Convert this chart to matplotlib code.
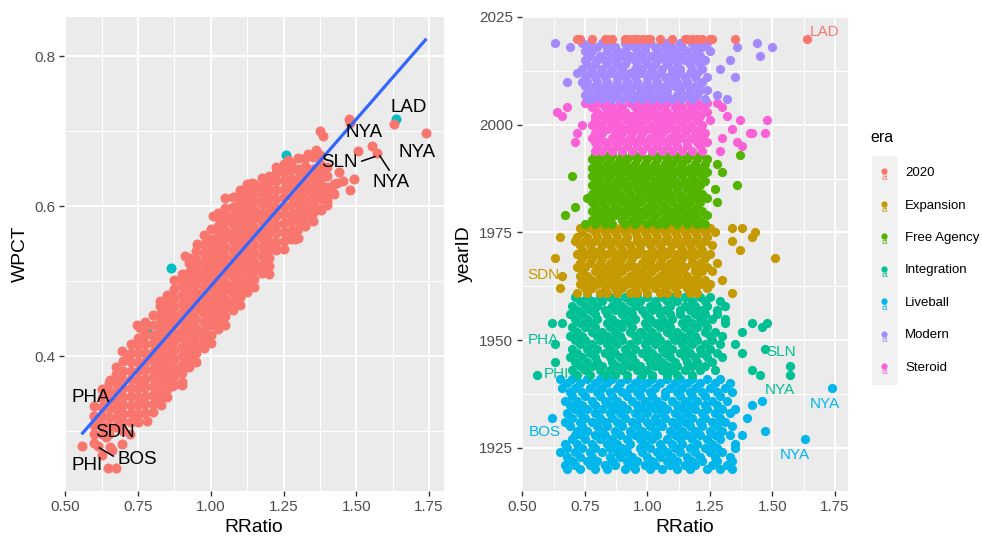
import matplotlib
matplotlib.use("Agg")
import matplotlib.pyplot as plt
from matplotlib.patches import Rectangle

plt.rcParams["font.family"] = ["Liberation Sans", "DejaVu Sans"]

# ── Left panel: WPCT vs RRatio ─────────────────────────────────────────────────
# dense band read column by column: (RRatio, [WPCT x 1000, ...])
WPCT_BAND = [
    (0.600, [285, 297, 309, 321, 334]),
    (0.625, [297, 308, 320, 332, 344, 356]),
    (0.650, [296, 307, 319, 331, 342, 354, 365]),
    (0.675, [306, 318, 330, 341, 353, 364, 376, 386]),
    (0.700, [301, 312, 323, 335, 346, 358, 369, 381, 394]),
    (0.725, [312, 324, 335, 347, 358, 370, 381, 393, 404, 416]),
    (0.750, [312, 323, 335, 346, 358, 369, 381, 392, 404, 415, 425]),
    (0.775, [324, 336, 347, 359, 370, 382, 393, 405, 416, 428, 439, 446]),
    (0.800, [326, 337, 349, 360, 372, 383, 395, 406, 418, 429, 441, 455]),
    (0.825, [342, 353, 364, 376, 387, 399, 410, 422, 433, 445, 456, 467, 474]),
    (0.850, [346, 357, 369, 380, 392, 403, 415, 426, 438, 449, 461, 472, 480]),
    (0.875, [362, 374, 385, 397, 408, 420, 431, 443, 454, 466, 477, 489, 501]),
    (0.900, [366, 378, 389, 401, 412, 424, 435, 447, 458, 470, 481, 493, 504, 510]),
    (0.925, [386, 397, 409, 420, 432, 443, 455, 466, 478, 489, 501, 512, 524, 531]),
    (0.950, [392, 404, 415, 427, 438, 450, 461, 473, 484, 496, 507, 519, 530, 540]),
    (0.975, [411, 422, 434, 445, 457, 468, 480, 491, 503, 514, 526, 537, 549, 561]),
    (1.000, [418, 429, 441, 452, 464, 475, 487, 498, 510, 521, 533, 544, 556, 570]),
    (1.025, [436, 447, 459, 470, 482, 493, 505, 516, 528, 539, 551, 562, 574, 585, 591]),
    (1.050, [442, 453, 465, 476, 488, 499, 511, 522, 534, 545, 557, 568, 580, 591, 598]),
    (1.075, [461, 472, 484, 495, 507, 518, 530, 541, 553, 564, 576, 587, 599, 612]),
    (1.100, [468, 479, 491, 502, 514, 525, 537, 548, 560, 571, 583, 594, 606, 618]),
    (1.125, [486, 497, 509, 520, 532, 543, 555, 566, 578, 589, 601, 612, 624, 630]),
    (1.150, [492, 503, 515, 526, 538, 549, 561, 572, 584, 595, 607, 619, 630]),
    (1.175, [511, 522, 534, 545, 557, 568, 580, 591, 603, 614, 626, 638]),
    (1.200, [520, 531, 543, 554, 566, 577, 589, 600, 612, 623, 634, 640]),
    (1.225, [541, 552, 564, 575, 587, 598, 610, 621, 633, 644, 652]),
    (1.250, [543, 554, 566, 577, 589, 600, 612, 623, 635, 646, 656]),
    (1.275, [556, 567, 579, 590, 602, 613, 625, 636, 648, 658]),
    (1.300, [558, 569, 581, 592, 604, 615, 627, 638, 650, 664]),
    (1.325, [574, 585, 597, 608, 620, 631, 643, 654, 664]),
    (1.350, [580, 591, 603, 614, 626, 637, 649, 665]),
    (1.375, [596, 609, 621, 632, 644, 656, 668]),
    (1.400, [602, 614, 626, 640, 652]),
    (1.425, [616, 630]),
]

# scattered teams outside the band (RRatio, WPCT)
WPCT_OUTLIERS = [
    (0.556, 0.280), (0.613, 0.280), (0.648, 0.251), (0.676, 0.251), (0.625, 0.268),
    (0.640, 0.292), (0.662, 0.275), (0.694, 0.283), (0.722, 0.297), (0.745, 0.316),
    (0.780, 0.314), (0.654, 0.279), (0.654, 0.369), (0.694, 0.407), (0.717, 0.398),
    (0.757, 0.438), (0.745, 0.441), (0.848, 0.482), (0.866, 0.360), (0.900, 0.362),
    (0.940, 0.396), (0.986, 0.420), (0.911, 0.533), (0.952, 0.549), (1.009, 0.587),
    (1.049, 0.611), (1.100, 0.622), (1.140, 0.631), (1.215, 0.638), (1.266, 0.662),
    (1.335, 0.669), (1.375, 0.700), (1.387, 0.693), (1.398, 0.607), (1.433, 0.631),
    (1.455, 0.633), (1.478, 0.622), (1.493, 0.636), (1.507, 0.674), (1.553, 0.680),
    (1.570, 0.671), (1.478, 0.711), (1.475, 0.716), (1.630, 0.710), (1.741, 0.698),
    (1.290, 0.556), (1.200, 0.510), (0.830, 0.335), (0.600, 0.320), (0.620, 0.310),
    (1.360, 0.675), (1.420, 0.618), (1.440, 0.645), (1.345, 0.590), (1.380, 0.595),
]

# 2020 season teams (drawn underneath)
WPCT_2020 = [
    (1.638, 0.716), (1.260, 0.668), (0.865, 0.518), (0.782, 0.436), (0.974, 0.431),
    (0.747, 0.314), (1.000, 0.500), (1.100, 0.550), (0.950, 0.470), (1.050, 0.520),
    (0.900, 0.450), (1.150, 0.570),
]

# linear fit end points
FIT_RRATIO = [0.556, 1.741]
FIT_WPCT = [0.296, 0.823]

LEFT_LABELS = [
    ("LAD", 1.679, 0.732), ("NYA", 1.527, 0.698), ("NYA", 1.710, 0.671),
    ("SLN", 1.441, 0.658), ("NYA", 1.620, 0.632), ("PHA", 0.588, 0.345),
    ("SDN", 0.671, 0.298), ("BOS", 0.748, 0.263), ("PHI", 0.576, 0.254),
]
LEFT_SEGMENTS = [
    ([1.519, 1.564], [0.660, 0.666]),
    ([1.581, 1.613], [0.667, 0.648]),
    ([0.617, 0.665], [0.278, 0.267]),
]

# ── Right panel: yearID vs RRatio, by era ──────────────────────────────────────
# rows: (yearID, [RRatio x 100, ...])
LIVEBALL = [
    (1920, [68, 73, 79, 84, 91, 95, 101, 106, 112, 117, 124, 129, 134]),
    (1921, [67, 71, 77, 83, 87, 93, 99, 103, 109, 115, 119, 126, 132]),
    (1922, [70, 76, 80, 86, 92, 96, 102, 108, 112, 118, 122, 128, 134]),
    (1923, [68, 73, 78, 85, 89, 94, 100, 105, 110, 116, 121, 127, 133]),
    (1924, [65, 71, 77, 82, 88, 92, 98, 104, 108, 113, 119, 125, 130]),
    (1925, [68, 74, 79, 85, 90, 97, 101, 106, 111, 117, 123, 128, 135]),
    (1926, [67, 72, 78, 84, 88, 93, 99, 105, 110, 114, 120, 126, 135]),
    (1927, [70, 75, 81, 86, 92, 97, 102, 108, 113, 118, 124, 129, 163]),
    (1928, [71, 74, 79, 83, 89, 95, 100, 104, 111, 116, 121, 127, 133, 138]),
    (1929, [72, 76, 82, 87, 93, 98, 103, 109, 114, 119, 125, 130, 147]),
    (1930, [69, 74, 80, 84, 90, 96, 101, 106, 112, 117, 122, 128, 134]),
    (1931, [67, 73, 78, 83, 88, 94, 100, 104, 110, 115, 121, 126, 131]),
    (1932, [62, 70, 75, 81, 86, 91, 97, 103, 107, 113, 118, 123, 129, 140]),
    (1933, [68, 73, 79, 85, 89, 95, 100, 106, 111, 116, 122, 127, 133]),
    (1934, [71, 76, 82, 87, 92, 98, 103, 108, 114, 119, 124, 130, 135]),
    (1935, [69, 74, 79, 85, 90, 96, 101, 106, 112, 117, 123, 128, 142]),
    (1936, [67, 72, 78, 83, 88, 94, 99, 104, 110, 115, 120, 126, 132, 146]),
    (1937, [70, 75, 81, 86, 92, 97, 102, 107, 113, 118, 123, 129]),
    (1938, [69, 74, 80, 85, 90, 96, 101, 107, 112, 117, 122, 128, 134]),
    (1939, [66, 71, 77, 82, 88, 93, 98, 103, 109, 114, 119, 125, 131, 174]),
    (1940, [68, 73, 79, 84, 89, 95, 100, 105, 111, 116, 121, 127, 133]),
    (1941, [65, 70, 76, 81, 86, 92, 97, 102, 108, 113, 118, 124, 129]),
]
INTEGRATION = [
    (1942, [56, 72, 77, 83, 87, 92, 98, 102, 108, 112, 118, 145, 157]),
    (1943, [70, 75, 81, 85, 90, 96, 100, 106, 110, 115, 121, 127, 142]),
    (1944, [73, 78, 82, 88, 93, 97, 103, 108, 112, 118, 123, 157]),
    (1945, [63, 71, 76, 80, 86, 91, 95, 101, 106, 111, 116, 120, 126]),
    (1946, [69, 74, 79, 85, 89, 94, 100, 104, 109, 115, 119, 124, 130]),
    (1947, [72, 77, 83, 87, 92, 98, 102, 107, 113, 117, 122, 128, 138]),
    (1948, [70, 76, 80, 85, 91, 95, 100, 106, 110, 115, 121, 125, 147]),
    (1949, [63, 73, 78, 84, 88, 93, 99, 103, 108, 114, 118, 123, 129, 135]),
    (1950, [71, 75, 81, 86, 90, 96, 101, 105, 111, 116, 120, 126]),
    (1951, [69, 74, 80, 84, 89, 95, 99, 104, 110, 114, 119, 125, 130]),
    (1952, [72, 78, 82, 87, 93, 97, 102, 108, 112, 117, 123, 127, 138]),
    (1953, [70, 75, 79, 85, 90, 94, 100, 105, 109, 115, 120, 124, 146]),
    (1954, [62, 66, 73, 78, 84, 88, 93, 99, 103, 108, 114, 118, 123, 131, 142, 148]),
    (1955, [71, 76, 80, 86, 91, 95, 101, 106, 110, 116, 121, 126, 131]),
    (1956, [69, 74, 79, 84, 90, 94, 99, 105, 109, 113, 119, 123, 128]),
    (1957, [72, 77, 83, 87, 92, 98, 102, 107, 113, 117, 122, 128]),
    (1958, [70, 75, 80, 86, 90, 95, 101, 104, 109, 115, 119, 124, 131]),
    (1959, [73, 78, 82, 88, 93, 97, 103, 108, 112, 118, 123, 129]),
    (1960, [71, 76, 81, 85, 91, 96, 100, 106, 110, 115, 121, 125]),
]
EXPANSION = [
    (1961, [72, 76, 81, 84, 88, 93, 96, 100, 105, 108, 112, 117, 120, 134]),
    (1962, [65, 75, 78, 83, 87, 90, 95, 99, 103, 107, 111, 116, 119, 124]),
    (1963, [73, 77, 80, 85, 89, 92, 97, 101, 104, 109, 113, 117, 121, 125]),
    (1964, [74, 78, 82, 86, 91, 94, 98, 103, 106, 110, 115, 118, 123, 130]),
    (1965, [66, 73, 76, 81, 84, 88, 93, 96, 100, 105, 108, 112, 116, 120]),
    (1966, [74, 79, 82, 86, 90, 95, 98, 102, 107, 110, 114, 119, 122, 126]),
    (1967, [72, 75, 80, 83, 87, 92, 95, 99, 104, 107, 111, 115, 119, 124]),
    (1968, [73, 77, 81, 85, 89, 93, 98, 101, 105, 109, 113, 118, 121, 128]),
    (1969, [63, 74, 78, 82, 87, 90, 94, 99, 102, 106, 111, 114, 118, 123, 151]),
    (1970, [72, 76, 80, 84, 88, 92, 96, 100, 104, 108, 112, 116, 120, 125]),
    (1971, [74, 78, 81, 86, 90, 94, 97, 102, 106, 109, 114, 118, 122, 137]),
    (1972, [73, 77, 82, 85, 89, 93, 97, 101, 105, 110, 113, 117, 121, 126]),
    (1973, [71, 75, 79, 83, 87, 91, 96, 99, 103, 107, 111, 115, 119, 123, 134]),
    (1974, [65, 72, 76, 80, 84, 88, 92, 96, 100, 104, 108, 112, 116, 120, 124, 142]),
    (1975, [74, 79, 83, 87, 91, 95, 99, 103, 107, 111, 115, 119, 123, 127, 143]),
    (1976, [73, 77, 81, 85, 89, 93, 97, 101, 105, 109, 113, 117, 121, 125, 134, 138]),
]
FREE_AGENCY = [
    (1977, [75, 79, 83, 86, 91, 95, 100, 104, 107, 112, 116, 120, 123]),
    (1978, [78, 82, 85, 90, 94, 97, 102, 106, 110, 113, 117, 121]),
    (1979, [67, 80, 84, 87, 91, 95, 99, 103, 108, 111, 115, 119, 124]),
    (1980, [78, 81, 86, 89, 93, 98, 101, 105, 109, 114, 118, 122]),
    (1981, [71, 79, 83, 87, 92, 95, 100, 103, 107, 112, 116, 120]),
    (1982, [78, 82, 86, 90, 94, 97, 102, 106, 110, 114, 117, 121, 128]),
    (1983, [76, 80, 84, 88, 91, 96, 99, 104, 108, 111, 115, 119, 124]),
    (1984, [78, 81, 85, 89, 93, 97, 101, 105, 109, 113, 118, 122]),
    (1985, [79, 83, 87, 92, 96, 100, 103, 107, 112, 116, 120, 127]),
    (1986, [78, 82, 86, 90, 94, 98, 102, 105, 109, 113, 117, 121, 136]),
    (1987, [80, 84, 88, 91, 95, 99, 103, 107, 111, 115, 119, 123]),
    (1988, [70, 78, 81, 85, 89, 93, 97, 101, 105, 109, 114, 118, 122]),
    (1989, [79, 83, 87, 92, 95, 99, 104, 107, 111, 115, 119, 124, 130]),
    (1990, [78, 82, 86, 90, 93, 97, 101, 106, 109, 113, 117, 121]),
    (1991, [80, 84, 88, 91, 95, 99, 103, 107, 110, 114, 119, 123, 128]),
    (1992, [78, 81, 85, 89, 92, 96, 100, 104, 108, 112, 116, 120, 124]),
    (1993, [79, 83, 86, 90, 94, 97, 102, 105, 109, 113, 117, 121, 137]),
]
STEROID = [
    (1994, [79, 82, 86, 90, 94, 98, 102, 106, 110, 114, 118, 122, 129]),
    (1995, [80, 84, 88, 92, 96, 100, 104, 108, 112, 116, 121, 138]),
    (1996, [71, 79, 83, 87, 91, 95, 99, 103, 107, 111, 116, 120, 124, 136]),
    (1997, [78, 81, 86, 89, 93, 97, 101, 105, 109, 113, 118, 122, 130]),
    (1998, [72, 79, 82, 87, 90, 94, 98, 103, 106, 111, 115, 119, 123, 141, 142, 147]),
    (1999, [80, 84, 88, 92, 96, 100, 104, 108, 112, 116, 121, 134]),
    (2000, [74, 78, 81, 86, 89, 94, 97, 102, 106, 109, 114, 118, 122]),
    (2001, [79, 83, 87, 92, 95, 99, 104, 107, 111, 115, 120, 125, 137, 148]),
    (2002, [66, 79, 82, 85, 90, 93, 97, 101, 105, 109, 113, 117, 121, 132]),
    (2003, [64, 80, 84, 88, 91, 96, 100, 103, 108, 112, 116, 119, 124]),
    (2004, [68, 78, 83, 86, 90, 95, 98, 102, 106, 111, 114, 118, 122, 130]),
    (2005, [75, 79, 81, 85, 89, 93, 97, 100, 104, 108, 112, 117, 120, 124, 128]),
]
MODERN = [
    (2006, [76, 78, 82, 86, 90, 94, 98, 102, 106, 110, 114, 118, 123, 132]),
    (2007, [75, 80, 84, 87, 92, 96, 100, 104, 108, 112, 116, 120, 128]),
    (2008, [77, 81, 85, 89, 93, 97, 101, 105, 108, 113, 117, 121, 124]),
    (2009, [75, 79, 83, 87, 91, 94, 99, 103, 107, 111, 114, 119]),
    (2010, [68, 74, 76, 80, 84, 88, 92, 96, 100, 104, 109, 112, 116, 122]),
    (2011, [75, 79, 83, 88, 91, 95, 100, 103, 107, 111, 115, 119, 124, 135]),
    (2012, [72, 77, 81, 85, 89, 93, 97, 101, 105, 110, 113, 117, 120]),
    (2013, [74, 78, 82, 86, 90, 95, 98, 102, 106, 110, 113, 118, 122, 129]),
    (2014, [76, 79, 84, 88, 91, 96, 100, 103, 108, 112, 117, 121]),
    (2015, [75, 80, 83, 87, 92, 95, 99, 104, 107, 111, 115, 119, 123, 133]),
    (2016, [77, 81, 86, 89, 93, 97, 102, 106, 109, 113, 118, 121, 145]),
    (2017, [75, 78, 84, 88, 91, 96, 99, 104, 108, 111, 116, 120, 125]),
    (2018, [69, 76, 80, 84, 87, 92, 95, 99, 103, 107, 110, 114, 119, 122, 136, 150]),
    (2019, [63, 74, 77, 82, 85, 91, 94, 98, 101, 106, 108, 113, 118, 121, 124, 144]),
]
SEASON_2020 = [
    (2020, [72, 73, 78, 83, 84, 86, 91, 92, 94, 95, 96, 98, 100, 101, 105, 110,
            115, 116, 118, 120, 122, 125, 126, 135, 164]),
]

ERA_NAMES = ["2020", "Expansion", "Free Agency", "Integration", "Liveball", "Modern", "Steroid"]
ERA_COLOURS = ["#F8766D", "#C49A00", "#53B400", "#00C094", "#00B6EB", "#A58AFF", "#FB61D7"]
ERA_ROWS = {
    "Liveball": LIVEBALL, "Integration": INTEGRATION, "Expansion": EXPANSION,
    "Free Agency": FREE_AGENCY, "Steroid": STEROID, "Modern": MODERN, "2020": SEASON_2020,
}
DRAW_ORDER = ["Liveball", "Integration", "Expansion", "Free Agency", "Steroid", "Modern", "2020"]

RIGHT_LABELS = [
    ("LAD", 1.710, 2021.6, "2020"), ("SDN", 0.585, 1965.2, "Expansion"),
    ("PHA", 0.585, 1950.0, "Integration"), ("PHI", 0.635, 1942.1, "Integration"),
    ("SLN", 1.535, 1947.3, "Integration"), ("NYA", 1.530, 1938.5, "Integration"),
    ("NYA", 1.710, 1935.3, "Liveball"), ("BOS", 0.590, 1928.6, "Liveball"),
    ("NYA", 1.590, 1923.4, "Liveball"),
]

X_TICKS = [0.50, 0.75, 1.00, 1.25, 1.50, 1.75]
X_TICK_LABELS = ["0.50", "0.75", "1.00", "1.25", "1.50", "1.75"]
X_MINOR = [0.625, 0.875, 1.125, 1.375, 1.625]
WPCT_TICKS = [0.4, 0.6, 0.8]
WPCT_TICK_LABELS = ["0.4", "0.6", "0.8"]
WPCT_MINOR = [0.3, 0.5, 0.7]
YEAR_TICKS = [1925, 1950, 1975, 2000, 2025]
YEAR_TICK_LABELS = ["1925", "1950", "1975", "2000", "2025"]
YEAR_MINOR = [1937.5, 1962.5, 1987.5, 2012.5]

# ── Style ──────────────────────────────────────────────────────────────────────
PANEL_BG = "#EBEBEB"
RED = "#F8766D"
CYAN = "#00BFC4"
FIT_BLUE = "#3366FF"
W_PX, H_PX = 982, 541
LEFT_S = 52      # marker area, left panel
RIGHT_S = 44     # marker area, right panel

fig = plt.figure(figsize=(W_PX / 100, H_PX / 100), dpi=100)
fig.patch.set_facecolor("white")


def px_axes(x0, y0, x1, y1):
    # pixel box, top-left origin
    return fig.add_axes([x0 / W_PX, 1 - y1 / H_PX, (x1 - x0) / W_PX, (y1 - y0) / H_PX])


def gg_panel(ax, ylim, yticks, ylabels, yminor, ylabel):
    ax.set_facecolor(PANEL_BG)
    for s in ax.spines.values():
        s.set_visible(False)
    ax.set_xlim(0.497, 1.800)
    ax.set_ylim(*ylim)
    ax.set_xticks(X_TICKS)
    ax.set_xticklabels(X_TICK_LABELS)
    ax.set_xticks(X_MINOR, minor=True)
    ax.set_yticks(yticks)
    ax.set_yticklabels(ylabels)
    ax.set_yticks(yminor, minor=True)
    ax.grid(which="major", color="white", linewidth=1.35)
    ax.grid(which="minor", color="white", linewidth=0.7)
    ax.set_axisbelow(True)
    ax.tick_params(which="major", length=3.5, width=1.0, color="#333333",
                   labelsize=11, labelcolor="#4D4D4D", pad=2.8)
    ax.tick_params(which="minor", length=0)
    ax.set_xlabel("RRatio", fontsize=13.9, color="black", labelpad=4)
    ax.set_ylabel(ylabel, fontsize=13.9, color="black", labelpad=4)


# ── Left panel ─────────────────────────────────────────────────────────────────
ax1 = px_axes(64.4, 17, 443.6, 491)
gg_panel(ax1, (0.2205, 0.852), WPCT_TICKS, WPCT_TICK_LABELS, WPCT_MINOR, "WPCT")

ax1.scatter([p[0] for p in WPCT_2020], [p[1] for p in WPCT_2020],
            s=LEFT_S, color=CYAN, linewidths=0, zorder=2)
band_x = [x for x, col in WPCT_BAND for _ in col]
band_y = [w / 1000 for _, col in WPCT_BAND for w in col]
ax1.scatter(band_x, band_y, s=LEFT_S, color=RED, linewidths=0, zorder=3)
ax1.scatter([p[0] for p in WPCT_OUTLIERS], [p[1] for p in WPCT_OUTLIERS],
            s=LEFT_S, color=RED, linewidths=0, zorder=3)
ax1.plot(FIT_RRATIO, FIT_WPCT, color=FIT_BLUE, linewidth=2.3, zorder=4,
         solid_capstyle="butt")

for sx, sy in LEFT_SEGMENTS:
    ax1.plot(sx, sy, color="black", linewidth=1.1, zorder=5)
for txt, x, y in LEFT_LABELS:
    ax1.text(x, y, txt, fontsize=13.5, color="black", ha="center", va="center", zorder=6)

# ── Right panel ────────────────────────────────────────────────────────────────
ax2 = px_axes(521.7, 17, 847.5, 491)
gg_panel(ax2, (1915, 2025), YEAR_TICKS, YEAR_TICK_LABELS, YEAR_MINOR, "yearID")

era_colour = dict(zip(ERA_NAMES, ERA_COLOURS))
for era in DRAW_ORDER:
    rows = ERA_ROWS[era]
    xs = [v / 100 for _, vals in rows for v in vals]
    ys = [yr for yr, vals in rows for _ in vals]
    ax2.scatter(xs, ys, s=RIGHT_S, color=era_colour[era], linewidths=0, zorder=3)

for txt, x, y, era in RIGHT_LABELS:
    ax2.text(x, y, txt, fontsize=11, color=era_colour[era], ha="center", va="center", zorder=6)

# ── Legend (drawn in pixel space) ──────────────────────────────────────────────
leg = fig.add_axes([0, 0, 1, 1], zorder=-1)
leg.set_xlim(0, W_PX)
leg.set_ylim(H_PX, 0)
leg.axis("off")
leg.text(870, 138, "era", fontsize=11.5, color="black", ha="left", va="center")
leg.add_patch(Rectangle((872, 156), 26, 229, facecolor="#F2F2F2", edgecolor="none"))
for i, (name, col) in enumerate(zip(ERA_NAMES, ERA_COLOURS)):
    yc = 173 + i * 32.5
    leg.scatter([884.5], [yc - 2], s=20, color=col, linewidths=0)
    leg.text(884.5, yc + 3.5, "a", fontsize=7, color=col, ha="center", va="center",
             family="Liberation Sans")
    leg.text(905, yc, name, fontsize=9.5, color="black", ha="left", va="center")

fig.savefig("out.png", dpi=100, facecolor="white")
